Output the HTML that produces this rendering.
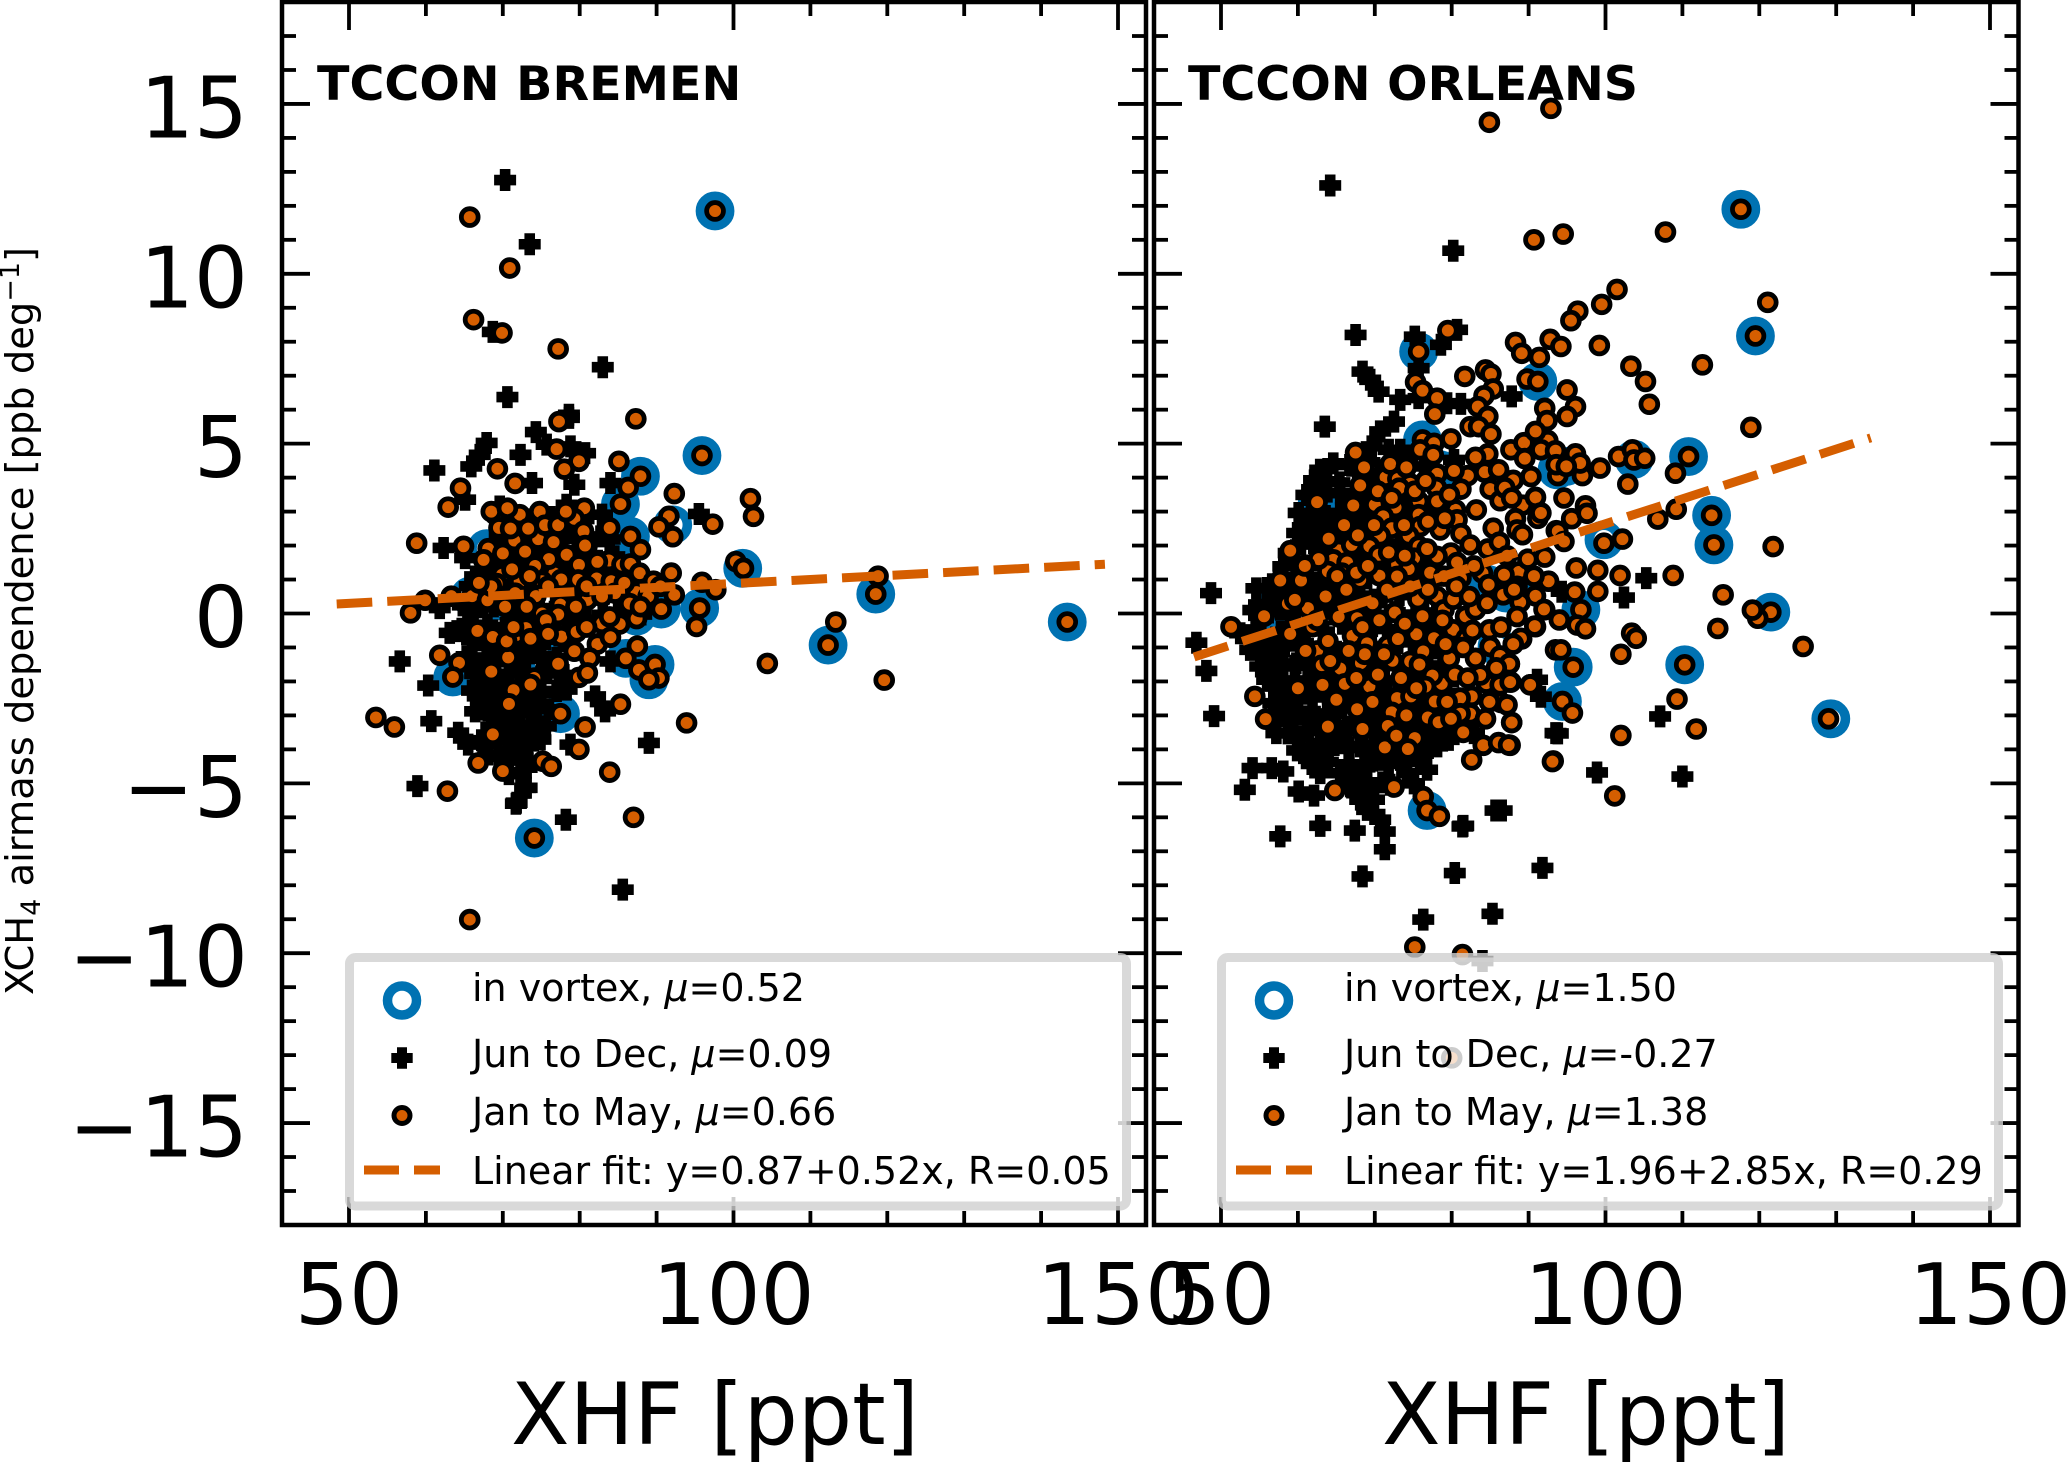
<!DOCTYPE html>
<html lang="en">
<head>
<meta charset="utf-8">
<title>XCH4 airmass dependence vs XHF</title>
<style>
html,body{margin:0;padding:0;background:#fff;}
svg{display:block;}
text{font-family:"DejaVu Sans","Liberation Sans",sans-serif;fill:#000;}
.tick-label{font-size:85px;}
.axis-title{font-size:85.5px;}
.site-title{font-size:47.6px;font-weight:bold;}
.legend-text{font-size:38px;}
.y-title{font-size:38.4px;}
</style>
</head>
<body>
<svg id="chart" xmlns="http://www.w3.org/2000/svg" width="2067" height="1463" viewBox="0 0 2067 1463">
  <rect x="0" y="0" width="2067" height="1463" fill="#fff"/>
  <text class="y-title" transform="translate(33,995) rotate(-90)">XCH<tspan font-size="27" dy="7">4</tspan><tspan dy="-7"> airmass dependence [ppb deg</tspan><tspan font-size="27" dy="-14">−1</tspan><tspan dy="14">]</tspan></text>

  <g id="panel-left">
    <g id="left-ticks"></g>
    <g id="left-marks"></g>
    <rect x="282" y="2" width="864" height="1223" fill="none" stroke="#000" stroke-width="4.5"/>
    <text class="site-title" x="317" y="100">TCCON BREMEN</text>
    <g>
      <rect x="349.5" y="957.5" width="777" height="248.5" rx="6" fill="#fff" fill-opacity="0.8" stroke="#cfcfcf" stroke-opacity="0.8" stroke-width="9"/>
      <circle cx="402" cy="1000.5" r="14.5" fill="#fff" stroke="#0072B2" stroke-width="9.5"/>
      <path d="M397 1047.3h10v5.7h5.7v10h-5.7v5.7h-10v-5.7h-5.7v-10h5.7z" fill="#000"/>
      <circle cx="402" cy="1115.5" r="8" fill="#D55E00" stroke="#000" stroke-width="5"/>
      <line x1="364" y1="1170" x2="440" y2="1170" stroke="#D55E00" stroke-width="9" stroke-dasharray="35,15"/>
      <text class="legend-text" x="472" y="1001">in vortex, <tspan font-style="italic">μ</tspan>=0.52</text>
      <text class="legend-text" x="472" y="1067">Jun to Dec, <tspan font-style="italic">μ</tspan>=0.09</text>
      <text class="legend-text" x="472" y="1125">Jan to May, <tspan font-style="italic">μ</tspan>=0.66</text>
      <text class="legend-text" x="472" y="1184">Linear fit: y=0.87+0.52x, R=0.05</text>
    </g>
  </g>

  <g id="panel-right">
    <g id="right-ticks"></g>
    <g id="right-marks"></g>
    <rect x="1154" y="2" width="864.5" height="1223" fill="none" stroke="#000" stroke-width="4.5"/>
    <text class="site-title" x="1188" y="100">TCCON ORLEANS</text>
    <g>
      <rect x="1221.5" y="957.5" width="777" height="248.5" rx="6" fill="#fff" fill-opacity="0.8" stroke="#cfcfcf" stroke-opacity="0.8" stroke-width="9"/>
      <circle cx="1274" cy="1000.5" r="14.5" fill="#fff" stroke="#0072B2" stroke-width="9.5"/>
      <path d="M1269 1047.3h10v5.7h5.7v10h-5.7v5.7h-10v-5.7h-5.7v-10h5.7z" fill="#000"/>
      <circle cx="1274" cy="1115.5" r="8" fill="#D55E00" stroke="#000" stroke-width="5"/>
      <line x1="1236" y1="1170" x2="1312" y2="1170" stroke="#D55E00" stroke-width="9" stroke-dasharray="35,15"/>
      <text class="legend-text" x="1344" y="1001">in vortex, <tspan font-style="italic">μ</tspan>=1.50</text>
      <text class="legend-text" x="1344" y="1067">Jun to Dec, <tspan font-style="italic">μ</tspan>=-0.27</text>
      <text class="legend-text" x="1344" y="1125">Jan to May, <tspan font-style="italic">μ</tspan>=1.38</text>
      <text class="legend-text" x="1344" y="1184">Linear fit: y=1.96+2.85x, R=0.29</text>
    </g>
  </g>

  <g id="tick-labels"></g>
  <text class="axis-title" x="715" y="1444" text-anchor="middle">XHF [ppt]</text>
  <text class="axis-title" x="1586" y="1444" text-anchor="middle">XHF [ppt]</text>
</svg>

<script>
const xMajorTicks = [50, 100, 150];
const xMinorTicks = [60, 70, 80, 90, 110, 120, 130, 140];
const yMajorTicks = [-15, -10, -5, 0, 5, 10, 15];
const yMinorTicks = [-17, -16, -14, -13, -12, -11, -9, -8, -7, -6, -4, -3, -2, -1, 1, 2, 3, 4, 6, 7, 8, 9, 11, 12, 13, 14, 16, 17];

const bremenFitX = [48.4, 148.3];
const bremenFitY = [0.28, 1.45];
const orleansFitX = [46.5, 134.5];
const orleansFitY = [-1.28, 5.17];

const bremenVortex = [[97.6,11.85],[95.9,4.65],[87.9,4.04],[85.3,3.22],[92.1,2.61],[86.6,2.27],[101.2,1.33],[90.6,0.13],[95.6,0.16],[87.4,-0.08],[67.9,1.91],[65.7,0.51],[89.8,-1.5],[89,-1.95],[86,-1.32],[63.5,-1.87],[77.5,-2.95],[112.3,-0.93],[118.5,0.57],[143.4,-0.25],[74.1,-6.61],[75.3,-1.36],[69.6,-0.48]];

const bremenJun = [[78.6,5.85],[74.3,5.34],[67.9,5.02],[67,4.67],[65.9,4.33],[61.1,4.21],[72.3,4.67],[75.7,4.97],[78.8,4.92],[80.7,4.72],[73.8,3.84],[79.3,3.79],[84,3.84],[65.1,3.35],[69.6,3.15],[78.3,3.2],[82.9,2.91],[95.5,2.93],[62.3,1.93],[65.1,1.63],[66.4,1.09],[65.7,0.8],[61.8,0.16],[64,-0.52],[63.1,-0.57],[56.6,-1.41],[60.3,-2.12],[66.4,-2.88],[60.7,-3.17],[64.2,-3.51],[65.5,-3.86],[68.1,-4.15],[71.4,-4],[73.3,-3.91],[78.8,-3.86],[89,-3.81],[73.1,-4.54],[73.1,-5.13],[58.9,-5.08],[71.8,-5.57],[82,-2.44],[83.3,-2.88],[78.3,-2.24],[84,-1.41],[74.4,-3.22],[69.6,-3.02],[67.5,-2.53],[67,-2.14],[67,-1.46],[68.8,-1.36],[71.8,-1.55],[69.6,-1.95],[70.9,-2.34],[73.1,-2.53],[74.9,-1.85],[68.8,-3.02],[70.9,-3.32],[72.3,-2.93],[74,-2.53],[67.9,-0.96],[66.2,-0.57],[69.6,-0.57],[74,-0.87],[71.8,-1.16],[65.3,-1.26],[68.8,0.21],[71.4,0.01],[74,-0.18],[76.2,-0.38],[78.3,-0.08],[80.9,-0.18],[83.6,-0.67],[67,0.99],[68.3,1.39],[71.4,1.39],[74,1.58],[76.2,1.68],[78.3,2.37],[80.9,2.07],[82.7,2.27],[82.3,1.19],[79.2,0.6],[75.7,2.47],[69.6,2.27],[72.7,2.47],[69.6,0.8],[72.3,0.21],[66.2,0.11],[70.3,12.76],[73.5,10.87],[68.7,8.29],[83,7.25],[70.6,6.37],[78.6,5.76],[71.7,-5.6],[78.2,-6.07],[85.6,-8.13],[72.9,-5.13],
[69.5,1.23],[72.8,1.17],[75.3,1.25],[67.5,0.72],[71.2,0.66],[73.4,0.74],[76.8,0.68],[64.8,0.24],[67.4,0.18],[70.4,0.27],[74.8,0.16],[77.4,0.22],[65.4,-0.28],[68,-0.33],[71,-0.26],[72.8,-0.35],[75.1,-0.27],[79.4,-0.34],[66,-0.78],[68.5,-0.84],[70.6,-0.76],[72.8,-0.83],[75.6,-0.77],[78,-0.82],[65.8,-1.33],[69.6,-1.27],[73,-1.34],[75,-1.26],[77,-1.31],[66.4,-1.78],[68.6,-1.83],[70.8,-1.77],[72.9,-1.84],[75.8,-1.76],[78,-1.81],[66,-2.27],[68.9,-2.33],[71.9,-2.26],[75,-2.34],[77,-2.28],[67.6,-2.83],[69.6,-2.76],[71.5,-2.84],[73.7,-2.77],[76,-2.82],[68.5,-3.33],[69.9,-3.27],[72.2,-3.34],[74,-3.28],[75.6,-3.32],[67.2,-3.73],[69.3,-3.67],[71.3,-3.74],[72.7,-3.66],[74.9,-3.71],[69.5,-4.22],[71.2,-4.16],[72.6,-4.24],[70.8,-4.73],[72.3,-4.67],[70.5,2.83],[73.7,2.77],[76.2,2.84],[80.5,2.78],[70.8,2.17],[73.4,2.23],[76.8,2.16],[79.6,2.24],[83.9,2.18],[72,1.73],[75.3,1.67],[77.8,1.74],[80,1.66],[81.6,1.72],[84.5,1.68],[78,1.23],[80.6,1.17],[83.9,1.24],[85.2,1.16],[81.6,0.63],[83.2,0.57],[85.8,0.64],[88.5,0.56],[80,0.03],[83,-0.04],[85,0.04],[88,-0.03]];

const bremenJan = [[77.3,5.65],[87.3,5.73],[85.1,4.48],[87.9,4.04],[86.3,3.71],[85.3,3.22],[95.9,4.65],[92.3,3.53],[102.2,3.38],[102.6,2.86],[91.6,2.86],[90.3,2.55],[92.1,2.26],[97.3,2.63],[86.6,2.27],[87.9,1.88],[83.9,2.52],[80.6,3.1],[79.3,2.79],[80.5,2.42],[80.7,2],[77,4.84],[79.9,4.48],[78,4.25],[69.3,4.26],[71.6,3.83],[64.5,3.69],[62.9,3.13],[58.8,2.07],[64.9,1.98],[69,2.91],[72.2,2.91],[74.8,3],[69.5,2.52],[71.5,2.15],[74.6,2.19],[76.6,2.1],[78.3,1.73],[68.1,1.91],[67.5,1.58],[70,1.77],[72.9,1.82],[79.9,1.43],[83.8,1.56],[82.3,1.52],[85.5,1.44],[86.6,1.46],[87.8,1.19],[91.9,1.19],[100.3,1.53],[101.3,1.33],[69.9,1.14],[76.7,1.18],[79.8,0.99],[82.2,1.03],[84.1,0.95],[69.2,0.88],[72.2,0.95],[75.1,0.95],[95.9,0.92],[97.7,0.7],[89.6,0.95],[92.3,0.55],[59.9,0.39],[58,0.02],[63.3,0.51],[66,0.51],[71.6,0.6],[74.3,0.51],[68,0.39],[77.5,0.26],[81,0.4],[84.6,0.6],[87.4,0.63],[90.6,0.13],[95.6,0.16],[95.2,-0.38],[87.4,-0.15],[86.5,0.29],[85.2,-0.31],[82.9,-0.29],[75.1,0],[77.2,-0.03],[66.7,-0.51],[68.7,-0.69],[71.7,-0.64],[73,-0.43],[73.6,-0.74],[77.6,-0.68],[79.6,-0.54],[82.3,-0.9],[79.3,-1.11],[81.3,-1.31],[87.5,-0.96],[86,-1.32],[89.8,-1.5],[87.7,-1.66],[90.3,-1.9],[89,-1.95],[61.8,-1.23],[64.3,-1.45],[63.5,-1.87],[70.7,-1.29],[77.2,-1.48],[68.5,-1.71],[74.1,-1.9],[79.9,-1.88],[81,-1.75],[71.4,-2.26],[73.6,-2.09],[70.8,-2.66],[77.5,-2.95],[85.3,-2.67],[93.9,-3.22],[104.4,-1.47],[80.7,-3.34],[68.7,-3.56],[79.9,-4],[66.8,-4.4],[70,-4.64],[75.2,-4.35],[76.3,-4.5],[83.9,-4.67],[62.8,-5.23],[70.5,-0.82],[65.7,11.67],[97.6,11.85],[70.9,10.17],[66.2,8.65],[69.9,8.26],[77.2,7.79],[53.5,-3.06],[55.9,-3.34],[87,-6],[74.1,-6.61],[65.7,-9.01],[112.3,-0.93],[113.3,-0.25],[118.5,0.57],[118.8,1.1],[119.6,-1.96],[143.4,-0.25],
[68.5,3],[70.6,3.1],[71,2.5],[73.3,2.5],[75.5,2.6],[77.2,2.6],[78.2,3],[76,1.6],[74.2,1.4],[71.2,1.3],[73.5,1.1],[77.6,1],[75.9,0.8],[80.9,0.8],[82.9,0.5],[85.8,0.9],[88.9,0.5],[90.5,0.8],[87.9,0.2],[83.9,-0.1],[79.5,0.2],[75.6,-0.2],[73.1,0.2],[70.3,0.2],[68.5,0.8],[66.9,0.9],[84,-0.7],[80.9,-0.4],[75.9,-0.6],[71.4,-0.4]];

const orleansVortex = [[75.7,7.71],[76.2,5.11],[78.5,4.23],[62.5,3.25],[91.2,6.83],[94.9,4.33],[119.5,8.17],[110.8,4.62],[113.8,2.89],[114.1,2.02],[103.7,4.54],[99.8,2.17],[96.8,0.11],[121.5,0.04],[95.8,-1.58],[94.4,-2.59],[110.3,-1.51],[76.8,-5.8],[117.6,11.9],[129.3,-3.1],[85.9,-0.97],[88.5,0.8],[84.8,0.85],[58.5,0.6],[56.2,0.1],[87.1,0.6],[93.7,4.23]];

const orleansJun = [[67.5,8.2],[68.4,7.12],[69.4,6.88],[70.5,6.53],[73.3,6.29],[75.2,8.15],[75.7,7.22],[80.7,8.35],[78.6,7.91],[81.2,6.17],[75.7,6.34],[79.4,6.19],[87.8,6.39],[63.5,5.5],[72.5,5.65],[70.7,5.36],[69.6,4.92],[71.8,4.82],[74.2,4.62],[62.9,4.23],[63.8,3.89],[61.1,3.49],[60.1,2.96],[59.9,2.37],[67.7,4.18],[70.7,4.13],[58.8,1.78],[56,0.75],[55.1,0.11],[65.5,2.96],[63.8,2.37],[62,2.07],[61.1,1.39],[65.5,3.54],[69,3.35],[72,3.84],[76.4,4.33],[67.2,2.56],[70.7,2.96],[74.2,2.96],[76.8,2.96],[59.4,0.9],[62.5,0.9],[64.6,0.6],[57.7,0.11],[60.3,0.41],[63.3,0.21],[66.4,0.41],[69.9,0.41],[58.1,1.39],[72,1.88],[69.4,1.39],[78.5,3.15],[73.3,4.82],[80.3,4.52],[62.5,1.58],[68.1,2.76],[65.1,2.17],[67.7,1.68],[52.5,-0.58],[53.8,-1.07],[55.1,-1.56],[56,-1.95],[56.8,-2.64],[58.1,-2.45],[59.4,-3.13],[57.2,-3.52],[60.7,-4.11],[54.1,-4.55],[56.6,-4.55],[58.1,-4.65],[53.1,-5.19],[60.1,-5.24],[62.1,-5.36],[62.9,-6.25],[57.7,-6.56],[67.4,-6.39],[71.3,-6.42],[71.3,-6.94],[68.4,-7.74],[80.4,-7.64],[91.8,-7.49],[81.5,-6.25],[85.7,-5.8],[69,-5.78],[69.9,-5.48],[67.7,-5.29],[70.7,-6.07],[62.9,-4.7],[65.5,-4.7],[68.1,-4.7],[70.7,-4.31],[73.3,-4.31],[75.9,-4.31],[76.8,-4.6],[78.1,-3.91],[78.5,-3.52],[73.3,-3.52],[68.1,-3.91],[65.5,-3.82],[62.9,-3.91],[60.3,-3.62],[59,-2.84],[61.2,-3.03],[63.8,-2.94],[66.4,-3.33],[69.9,-3.52],[73.3,-3.13],[75.9,-3.23],[56.8,-2.15],[58.1,-1.56],[60.3,-1.37],[62.9,-1.86],[61.2,-2.15],[63.8,-2.35],[66.4,-2.54],[69.9,-2.94],[71.6,-2.35],[74.6,-1.86],[69.9,-1.76],[66.4,-1.76],[56.8,-0.88],[55.1,-0.97],[57.2,-1.27],[59.9,-0.78],[65.5,-1.17],[69.9,-1.17],[74.2,-0.68],[78.5,-0.68],[79.4,-2.35],[80.3,-1.86],[76.8,-2.54],[71.6,-2.74],[69,-4.5],[66.8,-5.09],[68.1,-5.48],[74.2,-4.7],[75.1,-5],[91.1,-1.95],[91.6,-2.45],[93.5,-3.52],[79.6,-3.72],[82.9,-3.52],[81.6,-3.23],[54.6,0.74],[54.2,0.1],[62,-1.76],[105.3,1.04],[102.4,0.47],[107.1,-3.03],[98.9,-4.68],[110,-4.8],[86.5,-5.8],[94.3,0.64],[48.7,0.6],[46.8,-0.86],[48.1,-1.69],[49.1,-3.02],[64.2,12.6],[80.2,10.68],[76.3,-9.01],[85.3,-8.84],[81.4,-6.27],[93.8,-3.53],[84,-10.23],
[64.6,4.42],[66.7,4.37],[69.3,4.45],[62.1,3.92],[65.4,3.86],[68.9,3.93],[71.6,3.87],[63.1,3.42],[66.8,3.37],[70.9,3.44],[73.4,3.36],[61.7,2.92],[63.6,2.87],[67.9,2.94],[69.8,2.86],[72.8,2.93],[60.8,2.52],[62.4,2.46],[64.7,2.53],[69.3,2.47],[71.5,2.54],[73.6,2.46],[60.4,2.03],[63.7,1.96],[66.1,2.04],[68.7,1.97],[70.8,2.03],[73.3,1.96],[75.6,2.02],[59.7,1.53],[63.6,1.46],[65.7,1.54],[70.9,1.47],[73.8,1.53],[76.2,1.46],[57.4,1.03],[61.4,0.97],[64,1.04],[66.8,0.96],[69,1.03],[71.8,0.97],[74.7,1.04],[77.1,0.96],[57.3,0.53],[58.9,0.47],[62.2,0.54],[65.6,0.46],[68.1,0.53],[71,0.47],[73.2,0.54],[76.4,0.46],[56.2,0.03],[59,-0.04],[61.9,0.04],[64.7,-0.03],[67.4,0.03],[70.2,-0.04],[72.6,0.04],[75.3,-0.03],[78,0.03],[54.5,-0.47],[57.8,-0.54],[61,-0.46],[63.4,-0.53],[66.5,-0.47],[69,-0.54],[71.6,-0.46],[74.8,-0.53],[77,-0.47],[56.4,-1.03],[58.3,-0.97],[61.4,-1.04],[64.3,-0.96],[67,-1.03],[69.6,-0.97],[72.3,-1.04],[75.7,-0.96],[77.9,-1.03],[56.8,-1.53],[59.8,-1.47],[62,-1.54],[64.4,-1.46],[67.3,-1.53],[70.6,-1.47],[72.9,-1.54],[76.2,-1.46],[78.8,-1.53],[57.8,-2.03],[59.6,-1.97],[63.8,-2.04],[65.7,-1.96],[68.2,-2.03],[71.3,-1.97],[73.7,-2.04],[76,-1.96],[78.4,-2.03],[60,-2.53],[61.9,-2.47],[64.7,-2.54],[67.6,-2.46],[70.4,-2.53],[73.2,-2.47],[75.3,-2.54],[78.1,-2.46],[57.8,-3.03],[60,-2.97],[62.3,-3.04],[65,-2.96],[68.2,-3.03],[71,-2.97],[74.1,-3.04],[76.6,-2.96],[79,-3.03],[58.7,-3.53],[61.4,-3.47],[63.8,-3.54],[66,-3.46],[68.5,-3.53],[71.4,-3.47],[74.5,-3.54],[76.9,-3.46],[59.9,-4.03],[61.7,-3.97],[64,-4.04],[66.7,-3.96],[69.6,-4.03],[72.2,-3.97],[74.8,-4.04],[77,-3.96],[61.8,-4.43],[63.9,-4.37],[66.6,-4.44],[69.4,-4.36],[71.8,-4.43],[74,-4.37],[69,-5.03],[71,-4.97],[72,-5.04],[58.5,0.62],[56.2,0.12]];

const orleansJan = [[79.5,8.33],[88.3,7.98],[89.1,7.66],[91.4,7.54],[92.8,8.07],[94.2,7.86],[75.7,7.71],[81.7,6.98],[84.4,7.17],[85.1,7.05],[89.8,6.9],[91.2,6.83],[75.3,6.81],[76.2,6.56],[78.1,6.34],[77.8,5.87],[85.4,6.61],[84.2,6.41],[83.4,6.09],[92.1,6.04],[92.4,5.68],[84.7,5.8],[82.4,5.5],[83.5,5.5],[85.1,5.28],[67.5,4.74],[76.2,5.11],[77.7,5.01],[79.9,5.14],[75.9,4.82],[77.6,4.67],[84.7,4.7],[87.7,4.82],[89.4,5.03],[92.5,5.09],[90.9,5.36],[89.5,4.56],[91.6,4.82],[71.4,4.01],[73,3.96],[74.6,3.82],[78.1,4.11],[82.1,4.06],[84.3,4.16],[86.1,4.23],[88,3.92],[90.3,4.03],[93.8,4.06],[68.1,3.77],[73.2,3.69],[78,3.71],[81.2,3.66],[85,3.66],[86.3,3.32],[89.2,3.19],[90.9,3.42],[67.2,3.18],[70,3.2],[72.7,3.12],[75.7,3.3],[78.1,3.3],[71.1,2.86],[75.7,2.91],[80.5,3.05],[83.2,3.05],[88.3,2.79],[91.2,2.8],[91.6,2.96],[72.2,2.51],[75.9,2.56],[78.5,2.46],[80.7,2.76],[85.4,2.51],[88.5,2.46],[89.2,2.32],[81.2,2.35],[93.6,2.44],[70.7,2.29],[74.4,2.29],[82.4,2.02],[59,1.85],[65.3,1.86],[67,2.02],[69.3,1.98],[75.7,1.98],[70.5,1.73],[64.6,1.58],[66.4,1.5],[75.1,1.63],[79.9,1.78],[78.1,1.68],[72.9,1.44],[74.4,1.31],[92.1,1.66],[63.9,1.24],[70.6,1.11],[68.1,0.99],[65.7,1.19],[84,1.19],[88.7,1.22],[86.8,1.14],[92.6,0.95],[57.7,0.97],[60.4,0.97],[61.3,0.16],[58.7,0.29],[55.6,-0.08],[72.9,1.09],[81.2,1.04],[86.7,0.55],[90.9,0.52],[88.9,0.33],[92.1,0.11],[75.6,0.41],[78.1,0.5],[79,0.11],[72.6,0.03],[67.7,-0.08],[76.2,-0.08],[81.8,-0.08],[83.1,0.11],[80.2,0.42],[84.9,-0.48],[80.2,-0.48],[81.9,-0.73],[75.4,-0.61],[77.7,-0.73],[67.7,-0.14],[59,-0.6],[61.9,-0.39],[67.1,-0.66],[69,-0.88],[71.7,-0.94],[73,-0.75],[62.5,-1.1],[63.9,-0.81],[76.3,-1.12],[72.3,-1.39],[74.6,-1.41],[79.7,-1.32],[83.1,-1.32],[85,-0.97],[86.3,-1.25],[87.5,-1.49],[63.1,-1.52],[65.5,-1.62],[68.2,-1.46],[84.5,-2.05],[86.3,-2.1],[87.7,-2.02],[83.7,-1.81],[90.3,-2.1],[78.7,-2.07],[77.5,-1.83],[76.6,-2.15],[66.1,-2.07],[69.3,-2.15],[54.4,-2.44],[65,-2.54],[72.9,-2.49],[74.7,-2.44],[77.8,-2.59],[82.6,-2.44],[81.1,-2.49],[86.4,-2.62],[87.2,-2.69],[67.7,-2.82],[72.2,-2.91],[76.9,-3.06],[82.4,-2.95],[81.1,-2.95],[87.8,-3.21],[55.8,-3.11],[63.9,-3.33],[71.7,-3.31],[75.2,-3.67],[81.5,-3.5],[84.1,-3.88],[86.1,-3.8],[87.6,-3.88],[71.3,-3.94],[74.3,-3.99],[82.6,-4.31],[93.2,-4.34],[64.8,-5.21],[72.5,-5.11],[76.3,-5.39],[76.8,-5.8],[78.4,-5.97],[93.5,-1.07],[89.1,-0.75],[90.9,-0.39],[88.5,-0.09],[94,-0.19],[95,6.58],[96.1,6.09],[95,5.8],[93.5,4.79],[93.6,4.38],[96.1,4.7],[97,4.06],[99.3,4.28],[101.7,4.62],[103.5,4.82],[103.7,4.52],[105.1,4.57],[110.8,4.62],[109.1,4.13],[102.9,3.81],[113.8,2.89],[114.1,2.02],[109.2,3.07],[106.8,2.78],[94.6,3.4],[97.4,3.17],[95.6,2.79],[93.8,2.42],[99.8,2.07],[102.2,2.19],[94.6,2.12],[96.2,1.34],[99,1.27],[101.9,1.12],[108.8,1.12],[96,0.63],[99,0.65],[96.8,0.11],[115.3,0.55],[119.2,0.09],[121.5,0.04],[97.6,2.95],[96.7,4.43],[119.8,-0.14],[114.6,-0.44],[125.7,-0.97],[96.3,-0.34],[97.4,-0.45],[89,-0.73],[90.8,-0.37],[92,0.12],[103.4,-0.58],[104,-0.73],[94.2,-1.07],[102,-1.2],[110.3,-1.51],[95.8,-1.58],[87.5,-1.48],[90.2,-2.1],[87.6,-2.02],[94.4,-2.59],[95.7,-2.93],[109.3,-2.52],[87.8,-3.21],[102,-3.59],[111.8,-3.4],[93.1,-4.36],[101.2,-5.37],[87.4,-3.87],[84.9,14.46],[92.9,14.87],[90.7,11],[94.5,11.17],[107.8,11.23],[117.6,11.9],[121.1,9.16],[101.5,9.54],[99.5,9.1],[96.4,8.9],[95.5,8.62],[99.2,7.89],[112.6,7.32],[118.9,5.48],[119.5,8.17],[103.3,7.28],[105.2,6.83],[105.7,6.16],[51.3,-0.39],[129,-3.1],[121.8,1.97],[119.1,0.1],[75.2,-9.82],[81.4,-10.04],[80,-13.08],
[62.5,3.28],[94.9,4.33],[88.5,0.8],[84.8,0.85],[68.6,4.3],[70.4,3.6],[72,4.4],[74.1,4.3],[75.2,3.6],[76.6,3.9],[79.7,3.5],[80.3,4.2],[83.1,4.6],[86.9,3.7],[87.8,3.4],[79.1,2.8],[76.9,2.7],[73.8,2.6],[69.9,2.6],[72.2,3.4],[67.8,2.3],[66,2.6],[64,2.2],[65.1,1.1],[67.6,1.2],[69.1,1.4],[71.8,1.8],[73.9,1.7],[76.8,1.9],[77.2,1.2],[79,1.1],[80.7,1.5],[82.9,1.4],[84.7,1.9],[86.2,2.1],[87.2,1.7],[89.9,1.6],[90.7,1.1],[88.1,0.7],[84.6,0.3],[82.3,0.5],[80.6,0.8],[76.9,0.7],[74.6,0.8],[71.6,0.7],[69.7,0.3],[66.3,0.7],[63.6,0.5],[62.7,1.6],[60.9,1.4],[59.6,0.4],[62.5,-0.2],[65.3,-0.1],[68.4,-0.4],[70.6,-0.2],[73.9,-0.3],[78.8,-0.2],[82.7,-0.5],[86.4,-0.4],[88,-0.9],[85.8,-1.6],[81.5,-1],[79.2,-0.9],[75.8,-1.5],[71.2,-1.2],[68.7,-1.2],[66.6,-1.1],[64.2,-1.4],[61,-1.1],[60,-2.2],[63.2,-2.1],[67.6,-1.9],[70.4,-1.8],[73.4,-1.9],[80.4,-1.8],[82.1,-1.9],[84.9,-2.6],[75.4,-2.2],[79.4,-2.6],[69.7,-2.6],[74.1,-3],[78.3,-3.2],[79.9,-3.1],[68.4,-3.4],[72.8,-3.6],[84.4,-3.1]];

const SVG_NS = 'http://www.w3.org/2000/svg';
const Y_ZERO = 613.5;
const Y_SCALE = 33.97;
const X_SCALE = 7.69;
const PANEL_TOP = 2;
const PANEL_BOTTOM = 1225;

function yScale(v) { return Y_ZERO - v * Y_SCALE; }
function xScaleLeft(v) { return 349 + (v - 50) * X_SCALE; }
function xScaleRight(v) { return 1221 + (v - 50) * X_SCALE; }

function drawLine(parent, x1, y1, x2, y2, width) {
  const el = document.createElementNS(SVG_NS, 'line');
  el.setAttribute('x1', x1);
  el.setAttribute('y1', y1);
  el.setAttribute('x2', x2);
  el.setAttribute('y2', y2);
  el.setAttribute('stroke', '#000');
  el.setAttribute('stroke-width', width);
  parent.appendChild(el);
  return el;
}

function drawTicks(parent, xScale, left, right) {
  const MAJOR = 28, MINOR = 14, W = 3.8;
  xMajorTicks.forEach(function (t) {
    const x = xScale(t);
    const a = drawLine(parent, x, PANEL_BOTTOM, x, PANEL_BOTTOM - MAJOR, W);
    
    
    const b = drawLine(parent, x, PANEL_TOP, x, PANEL_TOP + MAJOR, W);
    
    
  });
  xMinorTicks.forEach(function (t) {
    const x = xScale(t);
    const a = drawLine(parent, x, PANEL_BOTTOM, x, PANEL_BOTTOM - MINOR, W);
    
    
    const b = drawLine(parent, x, PANEL_TOP, x, PANEL_TOP + MINOR, W);
    
    
  });
  yMajorTicks.forEach(function (t) {
    const y = yScale(t);
    const a = drawLine(parent, left, y, left + MAJOR, y, W);
    
    
    const b = drawLine(parent, right, y, right - MAJOR, y, W);
    
    
  });
  yMinorTicks.forEach(function (t) {
    const y = yScale(t);
    const a = drawLine(parent, left, y, left + MINOR, y, W);
    
    
    const b = drawLine(parent, right, y, right - MINOR, y, W);
    
    
  });
}

function drawVortex(parent, pts, xScale) {
  pts.forEach(function (p) {
    const el = document.createElementNS(SVG_NS, 'circle');
    el.setAttribute('cx', xScale(p[0]));
    el.setAttribute('cy', yScale(p[1]));
    el.setAttribute('r', 14.6);
    el.setAttribute('fill', 'none');
    el.setAttribute('stroke', '#0072B2');
    el.setAttribute('stroke-width', 9.6);
    
    
    parent.appendChild(el);
  });
}

function drawPlus(parent, pts, xScale) {
  const H = 11, A = 5.3;
  pts.forEach(function (p) {
    const x = xScale(p[0]), y = yScale(p[1]);
    const el = document.createElementNS(SVG_NS, 'path');
    el.setAttribute('d', 'M' + (x - A) + ' ' + (y - H) + 'H' + (x + A) + 'V' + (y - A) + 'H' + (x + H) + 'V' + (y + A) + 'H' + (x + A) + 'V' + (y + H) + 'H' + (x - A) + 'V' + (y + A) + 'H' + (x - H) + 'V' + (y - A) + 'H' + (x - A) + 'Z');
    el.setAttribute('fill', '#000');
    
    
    parent.appendChild(el);
  });
}

function drawJan(parent, pts, xScale) {
  pts.forEach(function (p) {
    const el = document.createElementNS(SVG_NS, 'circle');
    el.setAttribute('cx', xScale(p[0]));
    el.setAttribute('cy', yScale(p[1]));
    el.setAttribute('r', 8.4);
    el.setAttribute('fill', '#D55E00');
    el.setAttribute('stroke', '#000');
    el.setAttribute('stroke-width', 4.8);
    
    
    parent.appendChild(el);
  });
}

function drawFit(parent, fx, fy, xScale) {
  const el = document.createElementNS(SVG_NS, 'line');
  el.setAttribute('x1', xScale(fx[0]));
  el.setAttribute('y1', yScale(fy[0]));
  el.setAttribute('x2', xScale(fx[1]));
  el.setAttribute('y2', yScale(fy[1]));
  el.setAttribute('stroke', '#D55E00');
  el.setAttribute('stroke-width', 9);
  el.setAttribute('stroke-dasharray', '35.6,15');
  
  
  parent.appendChild(el);
}

function drawLabel(parent, x, y, anchor, str, name) {
  const el = document.createElementNS(SVG_NS, 'text');
  el.setAttribute('class', 'tick-label');
  el.setAttribute('x', x);
  el.setAttribute('y', y);
  el.setAttribute('text-anchor', anchor);
  el.textContent = str;
  
  
  parent.appendChild(el);
}

drawTicks(document.getElementById('left-ticks'), xScaleLeft, 282, 1146);
drawTicks(document.getElementById('right-ticks'), xScaleRight, 1154, 2018.5);

const leftMarks = document.getElementById('left-marks');
drawVortex(leftMarks, bremenVortex, xScaleLeft);
drawPlus(leftMarks, bremenJun, xScaleLeft);
drawJan(leftMarks, bremenJan, xScaleLeft);
drawFit(leftMarks, bremenFitX, bremenFitY, xScaleLeft);

const rightMarks = document.getElementById('right-marks');
drawVortex(rightMarks, orleansVortex, xScaleRight);
drawPlus(rightMarks, orleansJun, xScaleRight);
drawJan(rightMarks, orleansJan, xScaleRight);
drawFit(rightMarks, orleansFitX, orleansFitY, xScaleRight);

const labelGroup = document.getElementById('tick-labels');
xMajorTicks.forEach(function (t) {
  drawLabel(labelGroup, xScaleLeft(t), 1324, 'middle', String(t), 'bremen-x-tick-label');
  drawLabel(labelGroup, xScaleRight(t), 1324, 'middle', String(t), 'orleans-x-tick-label');
});
yMajorTicks.forEach(function (t) {
  drawLabel(labelGroup, 248, yScale(t) + 33.5, 'end', String(t).replace('-', '\u2212'), 'y-tick-label');
});
</script>
</body>
</html>
